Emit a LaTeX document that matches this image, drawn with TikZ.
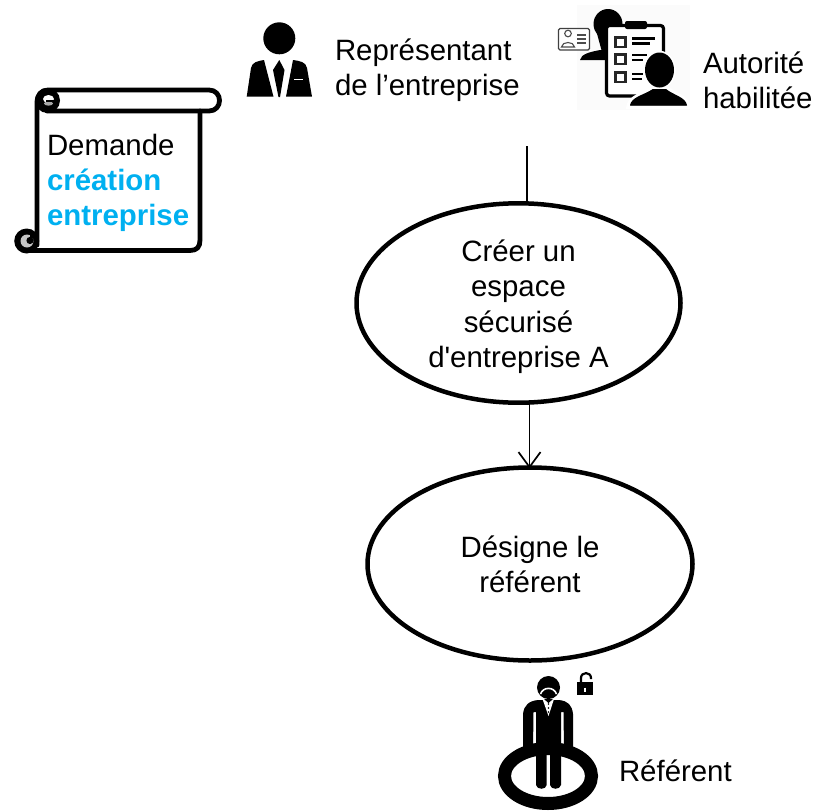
\documentclass[tikz,border=0pt]{standalone}
\usepackage{fontspec}
\setmainfont{Liberation Sans}
\newfontfamily\plainf{Liberation Sans}
\usetikzlibrary{shapes.geometric,arrows.meta}
\definecolor{skyb}{HTML}{00B0F0}
\tikzset{
  lbl/.style={inner sep=0pt,outer sep=0pt,font=\fontsize{29.4}{35.3}\selectfont,text=black},
  oval/.style={ellipse,draw=black,line width=4.5pt,fill=white,inner sep=0pt,outer sep=0pt,align=center,font=\fontsize{29.4}{35.3}\selectfont},
  link/.style={draw=black,line width=1.9pt},
  scrollline/.style={draw=black,line width=4.8pt,line join=round,line cap=round},
  ink/.style={fill=black,draw=none}
}
\begin{document}
\begin{tikzpicture}[x=1pt,y=-1pt]
\useasboundingbox (0,0) rectangle (819,811);
% scroll
\draw[scrollline] (37,245) -- (37,103) .. controls (37,95) and (41,90) .. (48,90) -- (209,90) .. controls (223,90) and (223,111) .. (209,111) -- (47,111);
\draw[scrollline] (200,111) -- (200,240) .. controls (200,247) and (197,250.5) .. (190,250.5) -- (27,250.5);
\fill[ink] (47.5,100.5) circle[radius=12.5];
\fill[white] (48.5,99) ellipse[x radius=5.5,y radius=4];
\fill[gray!70] (48.5,103.5) ellipse[x radius=4.5,y radius=2.2];
\draw[black,line width=2.2pt] (46,101) -- (55,101);
\fill[ink] (26.7,241) circle[radius=12.5];
\fill[gray!45] (27,241) circle[radius=6.5];
\fill[ink] (30,240.5) circle[radius=3.6];
\fill[ink] (30,233) rectangle (39,238);
\node[lbl,anchor=west,align=left] (scrolltext) at (47,183) {Demande\\\textcolor{skyb}{\textbf{création}}\\\textcolor{skyb}{\textbf{entreprise}}};
% representative icon
\fill[ink] (279.3,38.3) circle[radius=16];
\fill[ink] (246.7,96.7) -- (251,68) .. controls (252,62) and (258,61) .. (264,60) -- (273.5,96.7) -- cycle;
\fill[ink] (279.3,60) -- (284.5,70) -- (280,97) -- (278.5,97) -- (273,70) -- cycle;
\fill[ink] (293,60) .. controls (300,61) and (306,62) .. (307,68) -- (312,96.7) -- (286,96.7) -- cycle;
\draw[white,line width=1.5pt] (294,79.5) -- (303,79.5);
\node[lbl,anchor=west,align=left] (rep) at (335,70) {Représentant\\de l’entreprise};
% authority icon
\fill[black!1.5] (577,5) rectangle (690,110);
\fill[ink] (608,24) ellipse[x radius=14.5,y radius=15];
\fill[ink] (596,30) -- (620,30) -- (612,52) -- (602,52) -- cycle;
\fill[ink] (580,60) .. controls (581,54) and (590,52) .. (600,50) -- (606,50) -- (606,60) -- cycle;
\draw[black!75,fill=white,line width=1.3pt,rounded corners=1.5pt] (558.5,28.5) rectangle (589.5,50);
\draw[black!70,line width=1.1pt] (568,33.5) circle[radius=3.3] (561.5,47) .. controls (562,41) and (574,41) .. (574.5,47) -- cycle;
\draw[black!70,line width=1.1pt] (577,35) -- (586,35) (577,39) -- (586,39) (577,43) -- (586,43);
\draw[black,fill=white,line width=3.2pt,rounded corners=3pt] (606.5,25.5) rectangle (663.5,96);
\fill[ink,rounded corners=2pt] (625,21) rectangle (647,29);
\draw[black!85,line width=2.2pt] (615.5,37.5) rectangle (625.5,47);
\draw[black!85,line width=2.2pt] (615.5,54.5) rectangle (625.5,64);
\draw[black!85,line width=2.2pt] (615.5,72.5) rectangle (625.5,82);
\draw[black,line width=2.3pt] (632,38.5) -- (655,38.5) (632,43.5) -- (650,43.5)
  (632,55) -- (647,55) (632,60) -- (643,60) (632,74) -- (643,74) (632,79) -- (642,79);
\draw[white,line width=3.5pt,fill=black] (659.5,70) ellipse[x radius=14.5,y radius=17.5];
\draw[white,line width=3.5pt,fill=black] (628,107) .. controls (629,97) and (643,94) .. (653,87) -- (666,87) .. controls (674,94) and (688,97) .. (689,107) -- cycle;
\fill[ink] (659.5,70) ellipse[x radius=14.5,y radius=17.5];
\fill[ink] (630,105.5) .. controls (631,97) and (644,95) .. (653,89) -- (666,89) .. controls (673,95) and (686,97) .. (687,105.5) -- cycle;
\node[lbl,anchor=west,align=left] (auth) at (703,80) {Autorité\\habilitée};
% flow
\coordinate (start) at (527,146);
\node[oval,minimum width=324pt,minimum height=193pt] (e1) at (518.5,303) {\rule{0pt}{29pt}Créer un\\espace\\sécurisé\\{\plainf d'entreprise A}};
\node[oval,minimum width=325pt,minimum height=193pt] (e2) at (530,564) {Désigne le\\référent};
\draw[link] (start) -- (e1.north -| start);
\draw[link,-{Straight Barb[length=15pt,width=22pt,line width=1.7pt]}] (e1.south -| 529.5,0) -- ([yshift=-1pt]e2.north -| 529.5,0);
% referent icon
\fill[ink] (548.5,687.5) circle[radius=11.5];
\draw[white,line width=1.6pt] (540.5,694) .. controls (543,686.5) and (554,686.5) .. (556.5,694);
\fill[ink] (538,700) -- (559,700) .. controls (568,701) and (572,705) .. (573,714) -- (573,750) -- (564,750) -- (563.5,712) -- (561,712) -- (561,785) .. controls (560,790) and (551,790) .. (550,785) -- (550,752) -- (546.7,752) -- (546.7,785) .. controls (546,790) and (537,790) .. (536,785) -- (536,712) -- (533.5,712) -- (533,750) -- (523,750) -- (523,714) .. controls (524,705) and (529,701) .. (538,700) -- cycle;
\fill[white] (542.5,699) -- (554,699) -- (548.5,716) -- cycle;
\fill[ink] (548.5,704) circle[radius=.9] (548.5,708) circle[radius=.9] (548.5,712) circle[radius=.9];
\fill[ink] (544,699) -- (553,699) -- (548.5,703) -- cycle;
\draw[black,line width=13pt] (548,776) ellipse[x radius=43.5,y radius=27.5];
\fill[ink] (577,682) rectangle (593,694.5);
\draw[black,line width=2.2pt] (581,682) -- (581,678) .. controls (581,671.5) and (591,671.5) .. (591,678) -- (591,679);
\draw[white,line width=1.5pt] (585,687.5) -- (585,692);
\node[lbl,anchor=west] (ref) at (619,771) {Référent};
\end{tikzpicture}
\end{document}
